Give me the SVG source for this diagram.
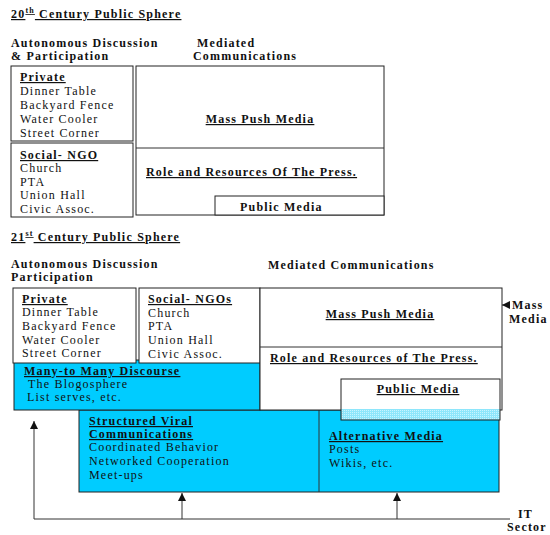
<svg xmlns="http://www.w3.org/2000/svg" width="550" height="535" viewBox="0 0 550 535">
<defs>
<style>
text{font-family:"Liberation Serif","Times New Roman",serif;font-size:12px;fill:#111;letter-spacing:1.2px}
.b{font-weight:bold}
.u{text-decoration:underline}
.box{fill:#fff;stroke:#222;stroke-width:1}
.cy{fill:#00ccff;stroke:#222;stroke-width:1}
.ln{fill:none;stroke:#333;stroke-width:1}
.c{text-anchor:middle}
</style>
<marker id="ah" viewBox="0 0 8 8" refX="8" refY="4" markerWidth="8" markerHeight="8" markerUnits="userSpaceOnUse" orient="auto">
<path d="M0,0 L8,4 L0,8 Z" fill="#111"/>
</marker>
<pattern id="dots" width="2" height="2" patternUnits="userSpaceOnUse">
<rect width="2" height="2" fill="#8ee6fb"/>
<rect width="1" height="1" fill="#c8f4ff"/>
</pattern>
</defs>

<!-- 20th century section -->
<g id="title20">
<text x="11" y="18" class="b u">20<tspan font-size="8" dy="-5">th</tspan><tspan dy="5"> Century Public Sphere</tspan></text>
</g>
<g id="hdr20-left">
<text x="11" y="47" class="b">Autonomous Discussion</text>
<text x="11" y="60" class="b">&amp; Participation</text>
</g>
<g id="hdr20-right">
<text x="197" y="47" class="b">Mediated</text>
<text x="193" y="60" class="b">Communications</text>
</g>
<g id="private20">
<rect x="11" y="66" width="122" height="75" class="box"/>
<text x="20" y="81" class="b u">Private</text>
<text x="20" y="95">Dinner Table</text>
<text x="20" y="109">Backyard Fence</text>
<text x="20" y="123">Water Cooler</text>
<text x="20" y="137">Street Corner</text>
</g>
<g id="social20">
<rect x="11" y="143" width="122" height="74" class="box"/>
<text x="20" y="159" class="b u">Social- NGO</text>
<text x="20" y="172">Church</text>
<text x="20" y="186">PTA</text>
<text x="20" y="199">Union Hall</text>
<text x="20" y="213">Civic Assoc.</text>
</g>
<g id="mediated20">
<rect x="136" y="66" width="248" height="149" class="box"/>
<line x1="136" y1="148" x2="384" y2="148" class="ln"/>
<text x="260" y="123" class="b u c">Mass Push Media</text>
<text x="146" y="176" class="b u">Role and Resources Of The Press.</text>
</g>
<g id="public20">
<rect x="215" y="196" width="169" height="19" class="box"/>
<text x="240" y="211" class="b">Public Media</text>
</g>

<!-- 21st century section -->
<g id="title21">
<text x="11" y="241" class="b u">21<tspan font-size="8" dy="-5">st</tspan><tspan dy="5"> Century Public Sphere</tspan></text>
</g>
<g id="hdr21-left">
<text x="11" y="268" class="b">Autonomous Discussion</text>
<text x="11" y="281" class="b">Participation</text>
</g>
<g id="hdr21-right">
<text x="268" y="269" class="b">Mediated  Communications</text>
</g>

<g id="structured">
<rect x="79" y="410" width="420" height="82" class="cy"/>
<line x1="319" y1="410" x2="319" y2="492" class="ln" stroke="#111"/>
<text x="89" y="425" class="b u">Structured Viral</text>
<text x="89" y="438" class="b u">Communications</text>
<text x="89" y="451">Coordinated Behavior</text>
<text x="89" y="465">Networked Cooperation</text>
<text x="89" y="479">Meet-ups</text>
</g>
<g id="alternative">
<text x="329" y="440" class="b u">Alternative Media</text>
<text x="329" y="453">Posts</text>
<text x="329" y="467">Wikis, etc.</text>
</g>
<g id="many">
<rect x="14" y="360" width="246" height="50" class="cy"/>
<text x="24" y="375" class="b u">Many-to Many Discourse</text>
<text x="28" y="388">The Blogosphere</text>
<text x="27" y="401">List serves, etc.</text>
</g>
<g id="private21">
<rect x="13" y="288" width="123" height="75" class="box"/>
<text x="22" y="303" class="b u">Private</text>
<text x="22" y="316">Dinner Table</text>
<text x="22" y="330">Backyard Fence</text>
<text x="22" y="344">Water Cooler</text>
<text x="22" y="357">Street Corner</text>
</g>
<g id="social21">
<rect x="139" y="288" width="121" height="75" class="box"/>
<text x="148" y="303" class="b u">Social- NGOs</text>
<text x="148" y="317">Church</text>
<text x="148" y="330">PTA</text>
<text x="148" y="344">Union Hall</text>
<text x="148" y="358">Civic Assoc.</text>
</g>
<g id="mediated21">
<rect x="260" y="288" width="242" height="122" class="box"/>
<line x1="260" y1="347" x2="502" y2="347" class="ln"/>
<text x="380" y="318" class="b u c">Mass Push Media</text>
<text x="270" y="362" class="b u">Role and Resources of The Press.</text>
</g>
<g id="public21">
<rect x="341" y="379" width="159" height="41" fill="#fff" stroke="none"/>
<rect x="341" y="409" width="159" height="11" fill="url(#dots)"/>
<rect x="341" y="379" width="159" height="41" fill="none" stroke="#222"/>
<text x="418" y="393" class="b u c">Public Media</text>
</g>
<g id="massmedia">
<text x="512" y="309" class="b">Mass</text>
<text x="509" y="323" class="b">Media</text>
</g>
<g id="itsector">
<text x="518" y="518" class="b">IT</text>
<text x="507" y="531" class="b" letter-spacing="0.8">Sector</text>
</g>

<g id="connectors">
<line x1="509" y1="305" x2="502" y2="305" class="ln" marker-end="url(#ah)"/>
<polyline points="510,519 34,519 34,421" class="ln" marker-end="url(#ah)"/>
<line x1="182" y1="519" x2="182" y2="493" class="ln" marker-end="url(#ah)"/>
<line x1="397" y1="519" x2="397" y2="493" class="ln" marker-end="url(#ah)"/>
</g>
</svg>
